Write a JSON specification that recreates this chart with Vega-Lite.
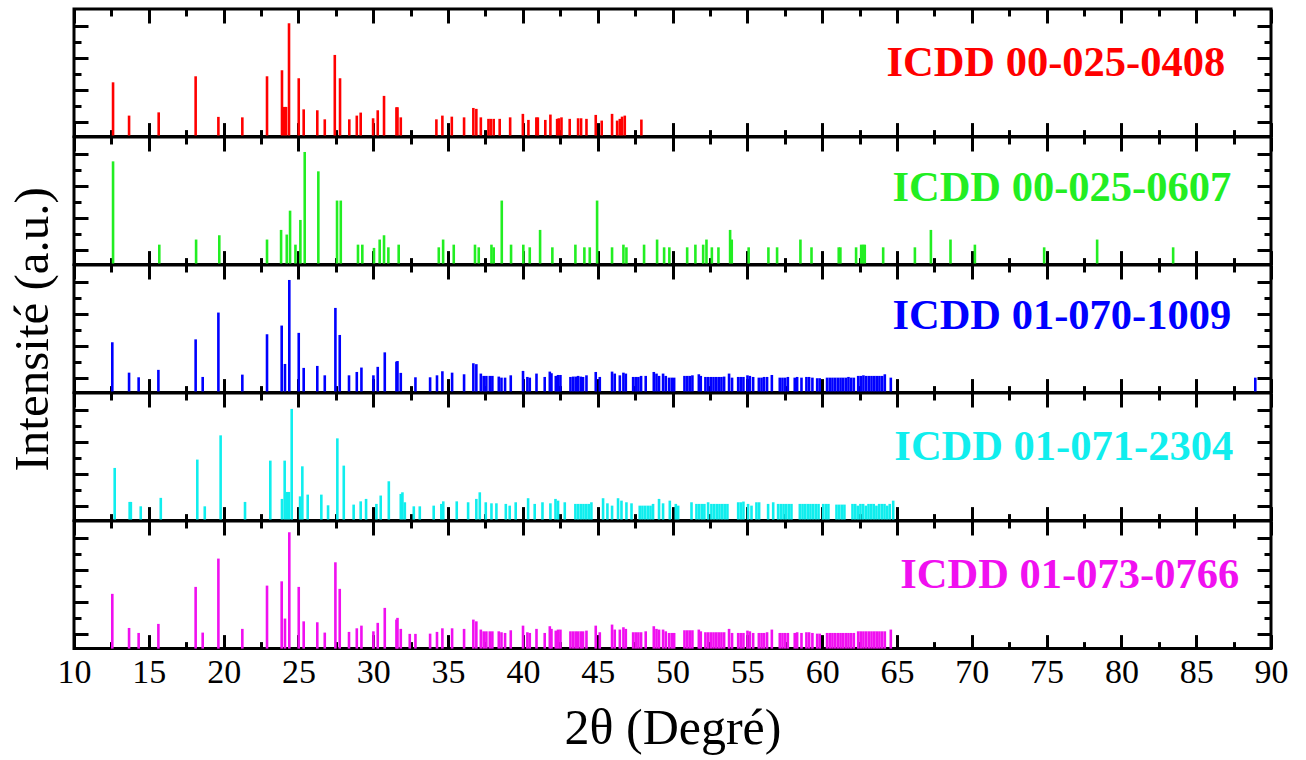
{
 "$schema": "https://vega.github.io/schema/vega-lite/v6.json",
 "padding": {"left": 7, "top": 6, "right": 0, "bottom": 0},
 "spacing": 0,
 "bounds": "flush",
 "background": "white",
 "config": {
  "view": {"stroke": "black", "strokeWidth": 3},
  "axis": {"domain": false, "grid": false, "tickColor": "black", "tickWidth": 3, "labelFont": "Liberation Serif", "titleFont": "Liberation Serif", "titleFontWeight": "normal", "labelColor": "black", "titleColor": "black", "labelFlush": false}
 },
 "datasets": {
  "p1": [{"t":12.61,"I":46.8},{"t":13.68,"I":18.1},{"t":15.66,"I":20.9},{"t":18.13,"I":52.0},{"t":19.65,"I":17.0},{"t":21.25,"I":16.6},{"t":22.90,"I":52.0},{"t":23.90,"I":57.2},{"t":24.05,"I":25.6},{"t":24.17,"I":25.6},{"t":24.37,"I":97.7},{"t":25.02,"I":50.3},{"t":25.35,"I":23.5},{"t":26.26,"I":22.7},{"t":26.76,"I":14.9},{"t":27.43,"I":70.4},{"t":27.78,"I":50.3},{"t":28.40,"I":14.9},{"t":28.90,"I":18.1},{"t":29.16,"I":20.7},{"t":29.99,"I":15.8},{"t":30.30,"I":22.7},{"t":30.72,"I":35.1},{"t":31.55,"I":25.3},{"t":31.62,"I":25.3},{"t":31.84,"I":16.6},{"t":34.22,"I":14.9},{"t":34.62,"I":18.1},{"t":35.25,"I":17.2},{"t":36.07,"I":16.6},{"t":36.69,"I":24.7},{"t":36.89,"I":23.9},{"t":37.19,"I":16.6},{"t":37.70,"I":15.3},{"t":37.85,"I":15.3},{"t":38.05,"I":15.3},{"t":38.45,"I":15.3},{"t":39.15,"I":16.6},{"t":40.00,"I":19.6},{"t":40.37,"I":14.4},{"t":40.90,"I":16.6},{"t":41.00,"I":16.6},{"t":41.50,"I":14.4},{"t":41.84,"I":19.0},{"t":42.29,"I":15.3},{"t":42.40,"I":15.8},{"t":42.58,"I":16.6},{"t":43.13,"I":15.3},{"t":43.69,"I":15.8},{"t":43.89,"I":15.8},{"t":44.25,"I":15.3},{"t":44.87,"I":18.7},{"t":45.27,"I":13.8},{"t":45.96,"I":19.6},{"t":46.30,"I":13.8},{"t":46.48,"I":15.3},{"t":46.63,"I":17.2},{"t":46.81,"I":18.1},{"t":47.92,"I":14.7}],
  "p2": [{"t":12.61,"I":89.0},{"t":15.70,"I":17.2},{"t":18.16,"I":21.6},{"t":19.71,"I":25.3},{"t":22.90,"I":21.6},{"t":23.84,"I":29.9},{"t":24.22,"I":25.9},{"t":24.44,"I":46.5},{"t":24.80,"I":17.2},{"t":25.13,"I":38.5},{"t":25.42,"I":97.1},{"t":26.33,"I":80.4},{"t":27.58,"I":55.2},{"t":27.83,"I":55.2},{"t":28.98,"I":17.2},{"t":29.27,"I":17.2},{"t":30.05,"I":14.4},{"t":30.43,"I":21.6},{"t":30.72,"I":25.3},{"t":31.01,"I":14.9},{"t":31.70,"I":17.2},{"t":34.38,"I":14.9},{"t":34.67,"I":21.6},{"t":35.38,"I":17.2},{"t":36.80,"I":17.2},{"t":37.05,"I":14.9},{"t":37.90,"I":17.2},{"t":38.05,"I":14.9},{"t":38.59,"I":55.2},{"t":39.21,"I":17.2},{"t":40.03,"I":17.2},{"t":40.46,"I":14.9},{"t":41.15,"I":29.9},{"t":41.97,"I":14.9},{"t":43.51,"I":17.2},{"t":44.11,"I":14.9},{"t":44.47,"I":14.9},{"t":44.96,"I":55.2},{"t":45.96,"I":14.9},{"t":46.72,"I":17.2},{"t":46.92,"I":14.9},{"t":48.10,"I":17.2},{"t":48.97,"I":21.6},{"t":49.44,"I":14.9},{"t":49.79,"I":14.9},{"t":50.98,"I":14.9},{"t":51.53,"I":17.2},{"t":52.05,"I":17.2},{"t":52.27,"I":21.6},{"t":52.63,"I":14.9},{"t":53.07,"I":14.9},{"t":53.85,"I":29.9},{"t":53.96,"I":21.6},{"t":55.09,"I":14.9},{"t":56.41,"I":14.9},{"t":56.99,"I":14.9},{"t":58.55,"I":21.6},{"t":59.29,"I":14.9},{"t":61.11,"I":14.9},{"t":61.22,"I":14.9},{"t":62.27,"I":14.9},{"t":62.61,"I":17.2},{"t":62.74,"I":17.2},{"t":62.85,"I":17.2},{"t":64.08,"I":14.9},{"t":66.20,"I":14.9},{"t":67.27,"I":29.9},{"t":68.58,"I":21.6},{"t":70.21,"I":17.2},{"t":74.84,"I":14.9},{"t":78.38,"I":21.6},{"t":83.46,"I":14.9}],
  "p3": [{"t":12.56,"I":43.4},{"t":13.68,"I":17.2},{"t":14.32,"I":13.2},{"t":15.64,"I":19.6},{"t":18.13,"I":45.9},{"t":18.60,"I":13.5},{"t":19.65,"I":69.0},{"t":21.25,"I":15.5},{"t":22.90,"I":50.3},{"t":23.88,"I":57.8},{"t":24.10,"I":24.7},{"t":24.39,"I":97.1},{"t":25.02,"I":51.5},{"t":25.35,"I":21.3},{"t":26.26,"I":23.0},{"t":26.76,"I":14.9},{"t":27.47,"I":73.0},{"t":27.76,"I":49.7},{"t":28.38,"I":14.9},{"t":28.90,"I":17.8},{"t":29.21,"I":21.6},{"t":30.01,"I":14.9},{"t":30.30,"I":22.2},{"t":30.77,"I":34.7},{"t":31.55,"I":26.7},{"t":31.62,"I":27.2},{"t":31.84,"I":17.0},{"t":32.82,"I":13.2},{"t":33.80,"I":13.2},{"t":34.26,"I":14.9},{"t":34.62,"I":18.4},{"t":35.27,"I":17.2},{"t":36.07,"I":15.8},{"t":36.69,"I":25.3},{"t":36.89,"I":24.5},{"t":37.19,"I":16.4},{"t":37.38,"I":14.4},{"t":37.56,"I":14.4},{"t":37.79,"I":14.4},{"t":37.96,"I":14.4},{"t":38.39,"I":13.8},{"t":38.57,"I":12.9},{"t":38.81,"I":12.9},{"t":39.19,"I":14.9},{"t":40.01,"I":18.7},{"t":40.30,"I":13.5},{"t":40.46,"I":12.9},{"t":40.91,"I":16.4},{"t":41.46,"I":13.5},{"t":41.80,"I":18.1},{"t":41.91,"I":16.7},{"t":42.20,"I":14.4},{"t":42.35,"I":15.2},{"t":42.51,"I":15.2},{"t":43.18,"I":13.5},{"t":43.36,"I":13.8},{"t":43.53,"I":13.8},{"t":43.69,"I":14.4},{"t":43.87,"I":13.8},{"t":44.02,"I":13.5},{"t":44.25,"I":14.9},{"t":44.87,"I":17.8},{"t":45.14,"I":13.5},{"t":45.96,"I":18.1},{"t":46.14,"I":16.4},{"t":46.48,"I":14.9},{"t":46.72,"I":17.2},{"t":46.88,"I":16.4},{"t":47.37,"I":13.5},{"t":47.54,"I":13.5},{"t":47.72,"I":13.5},{"t":47.90,"I":14.4},{"t":48.21,"I":14.4},{"t":48.75,"I":17.8},{"t":48.93,"I":16.4},{"t":49.10,"I":14.4},{"t":49.37,"I":16.4},{"t":49.55,"I":14.4},{"t":49.77,"I":12.9},{"t":49.95,"I":12.9},{"t":50.11,"I":12.9},{"t":50.80,"I":14.4},{"t":50.98,"I":14.4},{"t":51.15,"I":14.4},{"t":51.33,"I":14.9},{"t":51.76,"I":15.8},{"t":51.89,"I":14.4},{"t":52.20,"I":13.5},{"t":52.38,"I":13.5},{"t":52.56,"I":13.5},{"t":52.74,"I":13.5},{"t":52.92,"I":13.5},{"t":53.09,"I":13.5},{"t":53.27,"I":13.5},{"t":53.45,"I":13.8},{"t":53.78,"I":16.4},{"t":53.98,"I":12.9},{"t":54.39,"I":13.5},{"t":54.56,"I":13.5},{"t":54.74,"I":13.5},{"t":55.01,"I":14.9},{"t":55.17,"I":14.4},{"t":55.39,"I":13.5},{"t":55.77,"I":12.9},{"t":55.95,"I":12.9},{"t":56.12,"I":13.5},{"t":56.32,"I":13.5},{"t":56.64,"I":15.2},{"t":57.17,"I":12.9},{"t":57.35,"I":12.9},{"t":57.53,"I":12.9},{"t":57.71,"I":13.5},{"t":58.17,"I":12.9},{"t":58.33,"I":13.5},{"t":58.62,"I":12.9},{"t":58.95,"I":13.5},{"t":59.13,"I":13.5},{"t":59.35,"I":12.9},{"t":59.67,"I":12.4},{"t":59.84,"I":12.4},{"t":60.33,"I":12.9},{"t":60.51,"I":12.9},{"t":60.69,"I":12.9},{"t":60.87,"I":12.9},{"t":61.05,"I":12.9},{"t":61.23,"I":12.9},{"t":61.40,"I":12.9},{"t":61.58,"I":12.9},{"t":61.76,"I":13.5},{"t":61.94,"I":12.9},{"t":62.12,"I":12.9},{"t":62.41,"I":14.4},{"t":62.58,"I":14.4},{"t":62.76,"I":14.9},{"t":62.94,"I":14.4},{"t":63.12,"I":14.4},{"t":63.30,"I":14.4},{"t":63.48,"I":14.4},{"t":63.65,"I":14.4},{"t":63.83,"I":14.4},{"t":64.01,"I":14.4},{"t":64.19,"I":15.8},{"t":64.59,"I":12.9},{"t":88.95,"I":12.9}],
  "p4": [{"t":12.72,"I":45.4},{"t":13.72,"I":16.1},{"t":13.80,"I":16.1},{"t":14.46,"I":12.3},{"t":15.80,"I":19.6},{"t":18.24,"I":52.6},{"t":18.74,"I":12.3},{"t":19.80,"I":73.5},{"t":21.43,"I":16.1},{"t":23.12,"I":51.7},{"t":23.90,"I":18.7},{"t":24.08,"I":51.7},{"t":24.24,"I":24.7},{"t":24.36,"I":24.7},{"t":24.55,"I":96.3},{"t":25.11,"I":20.9},{"t":25.26,"I":46.8},{"t":25.62,"I":22.4},{"t":26.53,"I":22.4},{"t":26.98,"I":13.2},{"t":27.60,"I":70.9},{"t":28.03,"I":47.4},{"t":28.69,"I":13.8},{"t":29.16,"I":16.6},{"t":29.52,"I":18.7},{"t":30.21,"I":14.4},{"t":30.50,"I":21.6},{"t":31.04,"I":33.9},{"t":31.84,"I":23.0},{"t":31.95,"I":24.4},{"t":32.11,"I":15.8},{"t":32.71,"I":12.3},{"t":33.11,"I":12.3},{"t":34.04,"I":12.9},{"t":34.55,"I":14.4},{"t":34.68,"I":16.6},{"t":35.58,"I":16.6},{"t":36.34,"I":15.8},{"t":36.89,"I":18.7},{"t":37.12,"I":24.4},{"t":37.52,"I":15.8},{"t":37.90,"I":14.9},{"t":38.23,"I":14.9},{"t":38.86,"I":14.4},{"t":39.12,"I":12.9},{"t":39.52,"I":15.8},{"t":40.35,"I":19.3},{"t":40.79,"I":14.4},{"t":41.31,"I":15.8},{"t":41.84,"I":14.9},{"t":42.18,"I":18.7},{"t":42.35,"I":17.2},{"t":42.80,"I":15.8},{"t":43.51,"I":14.4},{"t":43.69,"I":14.4},{"t":43.87,"I":14.4},{"t":44.05,"I":14.4},{"t":44.23,"I":14.4},{"t":44.40,"I":14.4},{"t":44.58,"I":15.8},{"t":45.36,"I":19.3},{"t":45.65,"I":14.9},{"t":45.96,"I":12.9},{"t":46.36,"I":19.3},{"t":46.59,"I":17.2},{"t":46.92,"I":15.8},{"t":47.26,"I":14.9},{"t":47.81,"I":12.9},{"t":47.99,"I":12.9},{"t":48.17,"I":12.9},{"t":48.35,"I":12.9},{"t":48.53,"I":12.9},{"t":48.70,"I":14.4},{"t":49.10,"I":18.7},{"t":49.37,"I":14.9},{"t":49.82,"I":17.2},{"t":50.22,"I":14.4},{"t":50.38,"I":12.9},{"t":51.27,"I":15.8},{"t":51.60,"I":14.4},{"t":51.78,"I":14.4},{"t":51.96,"I":14.4},{"t":52.13,"I":14.4},{"t":52.38,"I":15.8},{"t":52.60,"I":14.4},{"t":52.78,"I":14.4},{"t":52.96,"I":14.4},{"t":53.14,"I":14.4},{"t":53.32,"I":14.4},{"t":53.49,"I":14.4},{"t":53.67,"I":14.4},{"t":54.39,"I":15.8},{"t":54.56,"I":15.8},{"t":54.74,"I":16.4},{"t":55.05,"I":14.4},{"t":55.28,"I":12.9},{"t":55.61,"I":15.8},{"t":55.79,"I":15.8},{"t":56.39,"I":14.4},{"t":56.73,"I":15.8},{"t":57.06,"I":14.4},{"t":57.24,"I":14.4},{"t":57.42,"I":14.4},{"t":57.59,"I":14.4},{"t":57.77,"I":14.4},{"t":57.95,"I":14.4},{"t":58.51,"I":14.4},{"t":58.69,"I":14.4},{"t":58.86,"I":14.4},{"t":59.04,"I":14.4},{"t":59.22,"I":14.4},{"t":59.40,"I":14.4},{"t":59.58,"I":14.4},{"t":59.76,"I":14.4},{"t":60.07,"I":14.4},{"t":60.25,"I":14.4},{"t":60.42,"I":14.4},{"t":60.96,"I":13.8},{"t":61.14,"I":13.8},{"t":61.32,"I":13.8},{"t":61.49,"I":13.8},{"t":62.03,"I":14.4},{"t":62.21,"I":14.4},{"t":62.38,"I":12.9},{"t":62.56,"I":14.4},{"t":62.74,"I":14.4},{"t":62.92,"I":12.9},{"t":63.10,"I":14.4},{"t":63.28,"I":14.4},{"t":63.45,"I":14.4},{"t":63.63,"I":12.9},{"t":63.81,"I":14.4},{"t":63.99,"I":14.4},{"t":64.17,"I":14.4},{"t":64.35,"I":12.9},{"t":64.52,"I":14.4},{"t":64.75,"I":17.2}],
  "p5": [{"t":12.56,"I":47.2},{"t":13.68,"I":17.8},{"t":14.32,"I":13.5},{"t":15.64,"I":21.3},{"t":18.13,"I":53.2},{"t":18.60,"I":13.8},{"t":19.65,"I":77.6},{"t":21.25,"I":17.0},{"t":22.90,"I":54.3},{"t":23.88,"I":58.0},{"t":24.10,"I":25.9},{"t":24.39,"I":100.3},{"t":25.02,"I":53.2},{"t":25.35,"I":23.5},{"t":26.26,"I":22.7},{"t":26.76,"I":13.8},{"t":27.47,"I":74.4},{"t":27.76,"I":51.5},{"t":28.38,"I":14.4},{"t":28.90,"I":17.5},{"t":29.21,"I":19.8},{"t":30.01,"I":14.9},{"t":30.30,"I":22.2},{"t":30.77,"I":35.1},{"t":31.55,"I":25.0},{"t":31.62,"I":26.5},{"t":31.84,"I":17.0},{"t":32.44,"I":12.7},{"t":32.82,"I":12.7},{"t":33.80,"I":12.9},{"t":34.26,"I":14.4},{"t":34.62,"I":17.5},{"t":35.27,"I":17.5},{"t":36.07,"I":17.0},{"t":36.69,"I":25.0},{"t":36.89,"I":23.5},{"t":37.19,"I":16.4},{"t":37.38,"I":14.9},{"t":37.56,"I":14.9},{"t":37.79,"I":14.9},{"t":37.96,"I":14.9},{"t":38.39,"I":14.9},{"t":38.57,"I":14.1},{"t":38.81,"I":13.5},{"t":39.19,"I":15.8},{"t":40.01,"I":19.8},{"t":40.30,"I":14.1},{"t":40.46,"I":13.5},{"t":40.91,"I":17.0},{"t":41.46,"I":13.5},{"t":41.80,"I":19.3},{"t":41.91,"I":17.0},{"t":42.20,"I":15.5},{"t":42.35,"I":16.4},{"t":42.51,"I":16.4},{"t":43.18,"I":14.9},{"t":43.36,"I":14.9},{"t":43.53,"I":14.9},{"t":43.69,"I":14.9},{"t":43.87,"I":14.9},{"t":44.02,"I":14.9},{"t":44.25,"I":15.5},{"t":44.87,"I":19.8},{"t":45.14,"I":14.1},{"t":45.96,"I":20.7},{"t":46.14,"I":16.4},{"t":46.48,"I":16.4},{"t":46.72,"I":18.4},{"t":46.88,"I":17.0},{"t":47.37,"I":14.1},{"t":47.54,"I":14.1},{"t":47.72,"I":14.1},{"t":47.90,"I":14.1},{"t":48.21,"I":14.9},{"t":48.75,"I":19.3},{"t":48.93,"I":17.0},{"t":49.10,"I":16.4},{"t":49.37,"I":16.4},{"t":49.55,"I":14.9},{"t":49.77,"I":13.5},{"t":49.95,"I":13.5},{"t":50.11,"I":13.5},{"t":50.80,"I":15.8},{"t":50.98,"I":15.8},{"t":51.15,"I":15.8},{"t":51.33,"I":15.8},{"t":51.76,"I":16.4},{"t":51.89,"I":14.9},{"t":52.20,"I":14.1},{"t":52.38,"I":14.1},{"t":52.56,"I":14.1},{"t":52.74,"I":14.1},{"t":52.92,"I":14.1},{"t":53.09,"I":14.1},{"t":53.27,"I":14.1},{"t":53.45,"I":14.1},{"t":53.78,"I":17.0},{"t":53.98,"I":13.5},{"t":54.39,"I":13.5},{"t":54.56,"I":13.5},{"t":54.74,"I":13.5},{"t":55.01,"I":15.5},{"t":55.17,"I":14.9},{"t":55.39,"I":13.5},{"t":55.77,"I":13.5},{"t":55.95,"I":13.5},{"t":56.12,"I":13.5},{"t":56.32,"I":14.1},{"t":56.64,"I":16.4},{"t":57.17,"I":13.5},{"t":57.35,"I":13.5},{"t":57.53,"I":13.5},{"t":57.71,"I":13.5},{"t":58.17,"I":13.5},{"t":58.33,"I":14.1},{"t":58.62,"I":13.5},{"t":58.95,"I":14.1},{"t":59.13,"I":14.1},{"t":59.35,"I":13.5},{"t":59.67,"I":12.9},{"t":59.84,"I":12.9},{"t":60.33,"I":13.5},{"t":60.51,"I":13.5},{"t":60.69,"I":13.5},{"t":60.87,"I":13.5},{"t":61.05,"I":13.5},{"t":61.23,"I":13.5},{"t":61.40,"I":13.5},{"t":61.58,"I":13.5},{"t":61.76,"I":13.5},{"t":61.94,"I":13.5},{"t":62.12,"I":13.5},{"t":62.41,"I":14.9},{"t":62.58,"I":14.9},{"t":62.76,"I":14.9},{"t":62.94,"I":14.9},{"t":63.12,"I":14.9},{"t":63.30,"I":14.9},{"t":63.48,"I":14.9},{"t":63.65,"I":14.9},{"t":63.83,"I":14.9},{"t":64.01,"I":14.9},{"t":64.19,"I":14.9},{"t":64.59,"I":16.4}]
 },
 "vconcat": [
  {"width": 1197, "height": 127.6,
   "layer": [
    {"data": {"name": "p1"}, "mark": {"type": "rule", "color": "#ff0000", "strokeWidth": 2.6},
     "encoding": {
      "x": {"field": "t", "type": "quantitative", "scale": {"domain": [10, 90], "nice": false, "zero": false}, "axis": {"orient": "bottom", "values": [10,12.5,15,17.5,20,22.5,25,27.5,30,32.5,35,37.5,40,42.5,45,47.5,50,52.5,55,57.5,60,62.5,65,67.5,70,72.5,75,77.5,80,82.5,85,87.5,90], "labels": false, "title": null, "tickSize": {"condition": {"test": "datum.value % 5 === 0", "value": -14}, "value": -7}}},
      "y": {"field": "I", "type": "quantitative", "scale": {"domain": [0, 110], "nice": false, "zero": false}, "axis": {"orient": "left", "values": [12.41,26.27,40.13,53.99,67.85,81.71,95.57], "labels": false, "title": null, "tickSize": {"condition": {"test": "indexof([12.41,40.13,67.85,95.57], datum.value) >= 0", "value": -14}, "value": -7}}},
      "y2": {"datum": 0}
     }},
    {"data": {"values": [{"label": "ICDD 00-025-0408"}]}, "mark": {"type": "text", "font": "Liberation Serif", "fontWeight": "bold", "fontSize": 42.5, "align": "right", "baseline": "alphabetic", "color": "#ff0000"},
     "encoding": {
      "x": {"datum": 86.94, "type": "quantitative", "axis": {"orient": "top", "values": [10,12.5,15,17.5,20,22.5,25,27.5,30,32.5,35,37.5,40,42.5,45,47.5,50,52.5,55,57.5,60,62.5,65,67.5,70,72.5,75,77.5,80,82.5,85,87.5,90], "labels": false, "title": null, "tickSize": {"condition": {"test": "datum.value % 5 === 0", "value": -14}, "value": -7}}},
      "y": {"datum": 52, "type": "quantitative", "axis": {"orient": "right", "values": [12.41,26.27,40.13,53.99,67.85,81.71,95.57], "labels": false, "title": null, "tickSize": {"condition": {"test": "indexof([12.41,40.13,67.85,95.57], datum.value) >= 0", "value": -14}, "value": -7}}},
      "text": {"field": "label"}
     }}
   ],
   "resolve": {"axis": {"x": "independent", "y": "independent"}}
  },
  {"width": 1197, "height": 127.6,
   "layer": [
    {"data": {"name": "p2"}, "mark": {"type": "rule", "color": "#22ee22", "strokeWidth": 2.6},
     "encoding": {
      "x": {"field": "t", "type": "quantitative", "scale": {"domain": [10, 90], "nice": false, "zero": false}, "axis": {"orient": "bottom", "values": [10,12.5,15,17.5,20,22.5,25,27.5,30,32.5,35,37.5,40,42.5,45,47.5,50,52.5,55,57.5,60,62.5,65,67.5,70,72.5,75,77.5,80,82.5,85,87.5,90], "labels": false, "title": null, "tickSize": {"condition": {"test": "datum.value % 5 === 0", "value": -14}, "value": -7}}},
      "y": {"field": "I", "type": "quantitative", "scale": {"domain": [0, 110], "nice": false, "zero": false}, "axis": {"orient": "left", "values": [12.41,26.27,40.13,53.99,67.85,81.71,95.57], "labels": false, "title": null, "tickSize": {"condition": {"test": "indexof([12.41,40.13,67.85,95.57], datum.value) >= 0", "value": -14}, "value": -7}}},
      "y2": {"datum": 0}
     }},
    {"data": {"values": [{"label": "ICDD 00-025-0607"}]}, "mark": {"type": "text", "font": "Liberation Serif", "fontWeight": "bold", "fontSize": 42.5, "align": "right", "baseline": "alphabetic", "color": "#22ee22"},
     "encoding": {
      "x": {"datum": 87.34, "type": "quantitative", "axis": {"orient": "top", "values": [10,12.5,15,17.5,20,22.5,25,27.5,30,32.5,35,37.5,40,42.5,45,47.5,50,52.5,55,57.5,60,62.5,65,67.5,70,72.5,75,77.5,80,82.5,85,87.5,90], "labels": false, "title": null, "tickSize": {"condition": {"test": "datum.value % 5 === 0", "value": -14}, "value": -7}}},
      "y": {"datum": 54.8, "type": "quantitative", "axis": {"orient": "right", "values": [12.41,26.27,40.13,53.99,67.85,81.71,95.57], "labels": false, "title": null, "tickSize": {"condition": {"test": "indexof([12.41,40.13,67.85,95.57], datum.value) >= 0", "value": -14}, "value": -7}}},
      "text": {"field": "label"}
     }}
   ],
   "resolve": {"axis": {"x": "independent", "y": "independent"}}
  },
  {"width": 1197, "height": 127.6,
   "layer": [
    {"data": {"name": "p3"}, "mark": {"type": "rule", "color": "#0000ff", "strokeWidth": 2.6},
     "encoding": {
      "x": {"field": "t", "type": "quantitative", "scale": {"domain": [10, 90], "nice": false, "zero": false}, "axis": {"orient": "bottom", "values": [10,12.5,15,17.5,20,22.5,25,27.5,30,32.5,35,37.5,40,42.5,45,47.5,50,52.5,55,57.5,60,62.5,65,67.5,70,72.5,75,77.5,80,82.5,85,87.5,90], "labels": false, "title": null, "tickSize": {"condition": {"test": "datum.value % 5 === 0", "value": -14}, "value": -7}}},
      "y": {"field": "I", "type": "quantitative", "scale": {"domain": [0, 110], "nice": false, "zero": false}, "axis": {"orient": "left", "values": [12.41,26.27,40.13,53.99,67.85,81.71,95.57], "labels": false, "title": "Intensité (a.u.)", "titleFontSize": 49, "titlePadding": 15, "tickSize": {"condition": {"test": "indexof([12.41,40.13,67.85,95.57], datum.value) >= 0", "value": -14}, "value": -7}}},
      "y2": {"datum": 0}
     }},
    {"data": {"values": [{"label": "ICDD 01-070-1009"}]}, "mark": {"type": "text", "font": "Liberation Serif", "fontWeight": "bold", "fontSize": 42.5, "align": "right", "baseline": "alphabetic", "color": "#0000ff"},
     "encoding": {
      "x": {"datum": 87.34, "type": "quantitative", "axis": {"orient": "top", "values": [10,12.5,15,17.5,20,22.5,25,27.5,30,32.5,35,37.5,40,42.5,45,47.5,50,52.5,55,57.5,60,62.5,65,67.5,70,72.5,75,77.5,80,82.5,85,87.5,90], "labels": false, "title": null, "tickSize": {"condition": {"test": "datum.value % 5 === 0", "value": -14}, "value": -7}}},
      "y": {"datum": 54.7, "type": "quantitative", "axis": {"orient": "right", "values": [12.41,26.27,40.13,53.99,67.85,81.71,95.57], "labels": false, "title": null, "tickSize": {"condition": {"test": "indexof([12.41,40.13,67.85,95.57], datum.value) >= 0", "value": -14}, "value": -7}}},
      "text": {"field": "label"}
     }}
   ],
   "resolve": {"axis": {"x": "independent", "y": "independent"}}
  },
  {"width": 1197, "height": 127.6,
   "layer": [
    {"data": {"name": "p4"}, "mark": {"type": "rule", "color": "#10eeee", "strokeWidth": 2.6},
     "encoding": {
      "x": {"field": "t", "type": "quantitative", "scale": {"domain": [10, 90], "nice": false, "zero": false}, "axis": {"orient": "bottom", "values": [10,12.5,15,17.5,20,22.5,25,27.5,30,32.5,35,37.5,40,42.5,45,47.5,50,52.5,55,57.5,60,62.5,65,67.5,70,72.5,75,77.5,80,82.5,85,87.5,90], "labels": false, "title": null, "tickSize": {"condition": {"test": "datum.value % 5 === 0", "value": -14}, "value": -7}}},
      "y": {"field": "I", "type": "quantitative", "scale": {"domain": [0, 110], "nice": false, "zero": false}, "axis": {"orient": "left", "values": [12.41,26.27,40.13,53.99,67.85,81.71,95.57], "labels": false, "title": null, "tickSize": {"condition": {"test": "indexof([12.41,40.13,67.85,95.57], datum.value) >= 0", "value": -14}, "value": -7}}},
      "y2": {"datum": 0}
     }},
    {"data": {"values": [{"label": "ICDD 01-071-2304"}]}, "mark": {"type": "text", "font": "Liberation Serif", "fontWeight": "bold", "fontSize": 42.5, "align": "right", "baseline": "alphabetic", "color": "#10eeee"},
     "encoding": {
      "x": {"datum": 87.47, "type": "quantitative", "axis": {"orient": "top", "values": [10,12.5,15,17.5,20,22.5,25,27.5,30,32.5,35,37.5,40,42.5,45,47.5,50,52.5,55,57.5,60,62.5,65,67.5,70,72.5,75,77.5,80,82.5,85,87.5,90], "labels": false, "title": null, "tickSize": {"condition": {"test": "datum.value % 5 === 0", "value": -14}, "value": -7}}},
      "y": {"datum": 52.6, "type": "quantitative", "axis": {"orient": "right", "values": [12.41,26.27,40.13,53.99,67.85,81.71,95.57], "labels": false, "title": null, "tickSize": {"condition": {"test": "indexof([12.41,40.13,67.85,95.57], datum.value) >= 0", "value": -14}, "value": -7}}},
      "text": {"field": "label"}
     }}
   ],
   "resolve": {"axis": {"x": "independent", "y": "independent"}}
  },
  {"width": 1197, "height": 127.6,
   "layer": [
    {"data": {"name": "p5"}, "mark": {"type": "rule", "color": "#f010f0", "strokeWidth": 2.6},
     "encoding": {
      "x": {"field": "t", "type": "quantitative", "scale": {"domain": [10, 90], "nice": false, "zero": false}, "axis": {"orient": "bottom", "values": [10,12.5,15,17.5,20,22.5,25,27.5,30,32.5,35,37.5,40,42.5,45,47.5,50,52.5,55,57.5,60,62.5,65,67.5,70,72.5,75,77.5,80,82.5,85,87.5,90], "labels": true, "labelExpr": "datum.value % 5 === 0 ? datum.label : ''", "labelFontSize": 34, "labelPadding": 21, "title": "2θ (Degré)", "titleFontSize": 50, "titlePadding": 14, "tickSize": {"condition": {"test": "datum.value % 5 === 0", "value": -14}, "value": -7}}},
      "y": {"field": "I", "type": "quantitative", "scale": {"domain": [0, 110], "nice": false, "zero": false}, "axis": {"orient": "left", "values": [12.41,26.27,40.13,53.99,67.85,81.71,95.57], "labels": false, "title": null, "tickSize": {"condition": {"test": "indexof([12.41,40.13,67.85,95.57], datum.value) >= 0", "value": -14}, "value": -7}}},
      "y2": {"datum": 0}
     }},
    {"data": {"values": [{"label": "ICDD 01-073-0766"}]}, "mark": {"type": "text", "font": "Liberation Serif", "fontWeight": "bold", "fontSize": 42.5, "align": "right", "baseline": "alphabetic", "color": "#f010f0"},
     "encoding": {
      "x": {"datum": 87.87, "type": "quantitative", "axis": {"orient": "top", "values": [10,12.5,15,17.5,20,22.5,25,27.5,30,32.5,35,37.5,40,42.5,45,47.5,50,52.5,55,57.5,60,62.5,65,67.5,70,72.5,75,77.5,80,82.5,85,87.5,90], "labels": false, "title": null, "tickSize": {"condition": {"test": "datum.value % 5 === 0", "value": -14}, "value": -7}}},
      "y": {"datum": 52.6, "type": "quantitative", "axis": {"orient": "right", "values": [12.41,26.27,40.13,53.99,67.85,81.71,95.57], "labels": false, "title": null, "tickSize": {"condition": {"test": "indexof([12.41,40.13,67.85,95.57], datum.value) >= 0", "value": -14}, "value": -7}}},
      "text": {"field": "label"}
     }}
   ],
   "resolve": {"axis": {"x": "independent", "y": "independent"}}
  }
 ]
}
